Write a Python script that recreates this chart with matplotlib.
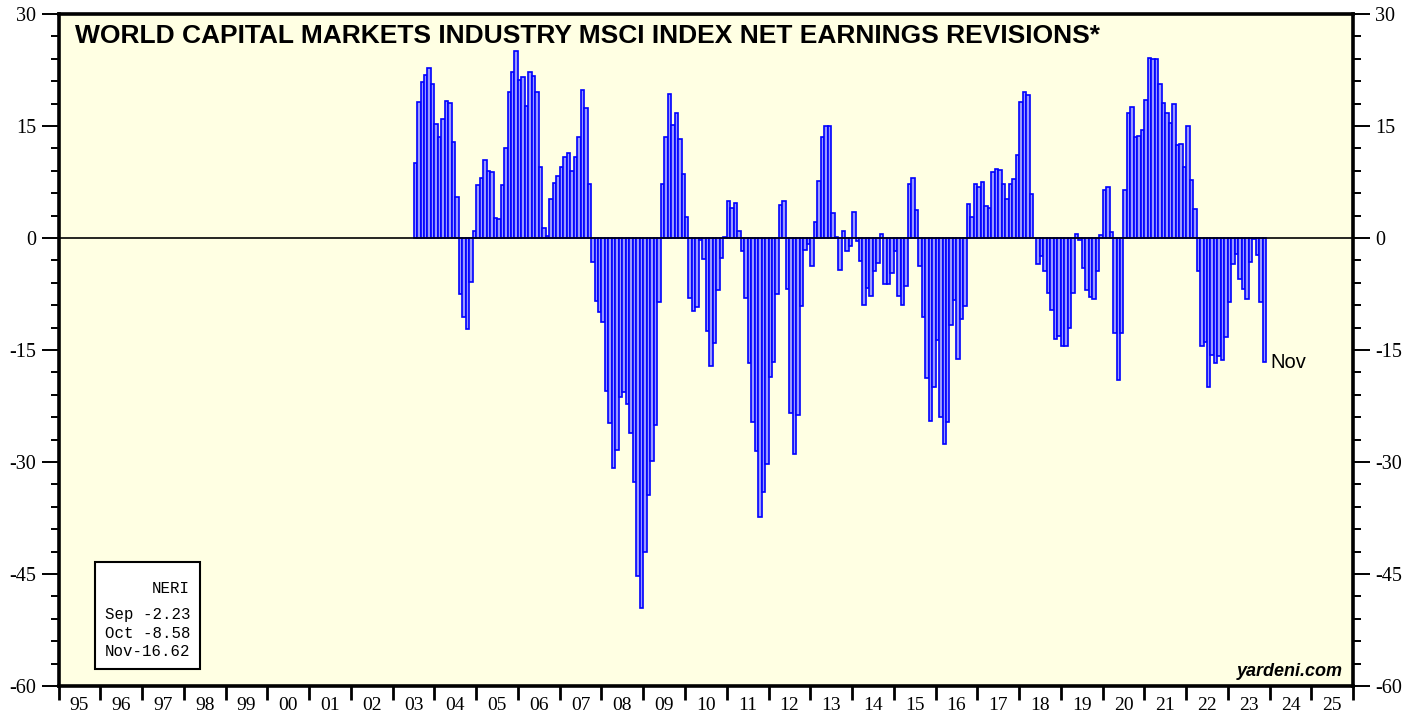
#!/usr/bin/env python3
"""
World capital markets industry MSCI net earnings revisions (NERI), monthly bars.
"""
import numpy as np
import matplotlib
matplotlib.use("Agg")
import matplotlib.pyplot as plt
from matplotlib.patches import Rectangle
from matplotlib.ticker import MultipleLocator, FixedLocator, NullFormatter, FixedFormatter

TITLE = "WORLD CAPITAL MARKETS INDUSTRY MSCI INDEX NET EARNINGS REVISIONS*"
SOURCE = "yardeni.com"
LEGEND_TITLE = "NERI"
MONTH_NAMES = ["Jan", "Feb", "Mar", "Apr", "May", "Jun", "Jul", "Aug", "Sep", "Oct", "Nov", "Dec"]

START_YEAR = 2003
START_MONTH = 7  # first bar is Jul 2003

# monthly NERI readings, Jul 2003 .. Nov 2023
neri = [
    10.0, 18.2, 20.9, 21.8, 22.8, 20.6,                                   # 2003 Jul-Dec
    15.3, 13.6, 16.0, 18.4, 18.1, 12.9, 5.5, -7.5, -10.6, -12.2, -5.9, 1.0,  # 2004
    7.1, 8.1, 10.5, 9.0, 8.9, 2.7, 2.5, 7.1, 12.1, 19.5, 22.2, 25.0,      # 2005
    21.2, 21.6, 17.7, 22.2, 21.7, 19.5, 9.5, 1.3, 0.3, 5.2, 7.4, 8.3,     # 2006
    9.5, 10.9, 11.4, 9.0, 10.8, 13.6, 19.8, 17.4, 7.2, -3.2, -8.4, -9.9,  # 2007
    -11.2, -20.5, -24.8, -30.8, -28.4, -21.3, -20.6, -22.2, -26.1, -32.7, -45.2, -49.6,  # 2008
    -42.0, -34.4, -29.8, -25.0, -8.5, 7.2, 13.5, 19.3, 15.1, 16.8, 13.2, 8.6,  # 2009
    2.8, -8.0, -9.8, -9.3, -0.3, -2.8, -12.4, -17.2, -14.0, -7.0, -2.7, 0.1,  # 2010
    5.0, 4.0, 4.7, 1.0, -1.7, -8.0, -16.8, -24.6, -28.5, -37.3, -34.0, -30.3,  # 2011
    -18.6, -16.6, -7.5, 4.4, 4.9, -6.8, -23.4, -28.9, -23.7, -9.1, -1.6, -0.8,  # 2012
    -3.8, 2.2, 7.6, 13.5, 15.0, 15.0, 3.4, 0.2, -4.3, 0.9, -1.7, -1.0,    # 2013
    3.5, -0.4, -3.1, -9.0, -6.7, -7.8, -4.4, -3.3, 0.5, -6.1, -6.1, -4.7,  # 2014
    -1.8, -7.7, -9.0, -6.4, 7.2, 8.1, 3.7, -3.7, -10.6, -18.8, -24.5, -19.9,  # 2015
    -13.7, -24.0, -27.6, -24.6, -11.6, -8.3, -16.2, -10.8, -9.1, 4.5, 2.8, 7.2,  # 2016
    6.8, 7.5, 4.3, 4.0, 8.9, 9.2, 9.1, 7.3, 5.2, 7.2, 7.9, 11.1,          # 2017
    18.2, 19.6, 19.2, 5.9, 0.0, -3.5, -2.4, -4.4, -7.3, -9.7, -13.5, -13.1,  # 2018
    -14.4, -14.4, -12.0, -7.4, 0.6, -0.2, -4.0, -7.0, -7.9, -8.2, -4.4, 0.4,  # 2019
    6.5, 6.8, 0.8, -12.7, -19.0, -12.7, 6.5, 16.8, 17.6, 13.5, 13.7, 14.5,  # 2020
    18.5, 24.1, 24.0, 24.0, 20.6, 18.1, 16.8, 15.4, 17.9, 12.5, 12.6, 9.5,  # 2021
    15.0, 7.8, 3.9, -4.4, -14.4, -13.9, -19.9, -15.6, -16.8, -15.8, -16.4, -13.2,  # 2022
    -8.5, -3.5, -2.1, -5.5, -6.8, -8.2, -3.2, -0.1, -2.23, -8.58, -16.62,  # 2023 Jan-Nov
]

X_MIN, X_MAX = 1995, 2026
Y_MIN, Y_MAX = -60, 30

BG = "#ffffe3"
BAR_FILL = "#9a9aff"
BAR_EDGE = "#0000ff"


def main():
    plt.rcParams["font.family"] = ["Liberation Serif", "DejaVu Serif"]
    plt.rcParams["axes.unicode_minus"] = False

    vals = np.array(neri)
    x = START_YEAR + (START_MONTH - 1) / 12 + np.arange(len(vals)) / 12

    fig = plt.figure(figsize=(14.19, 7.17), dpi=100)
    ax = fig.add_axes([0.0413, 0.0432, 0.9123, 0.9372])
    ax.set_facecolor(BG)

    ax.bar(x, vals, width=1 / 12, align="edge", color=BAR_FILL,
           edgecolor=BAR_EDGE, linewidth=1.2, zorder=2)
    ax.axhline(0, color="black", lw=1.2, zorder=3)

    ax.set_xlim(X_MIN, X_MAX)
    ax.set_ylim(Y_MIN, Y_MAX)

    for sp in ax.spines.values():
        sp.set_linewidth(2.6)

    # y axis, labels on both sides
    ax.yaxis.set_major_locator(MultipleLocator(15))
    ax.yaxis.set_minor_locator(MultipleLocator(3))
    ax.tick_params(axis="y", which="major", length=12, width=1.4, direction="out",
                   left=True, right=True, labelleft=True, labelright=True,
                   labelsize=14.5, pad=4)
    ax.tick_params(axis="y", which="minor", length=6, width=1.4, direction="out",
                   left=True, right=True)

    # x axis: ticks on year boundaries, 2-digit labels centred in each year
    years = np.arange(X_MIN, X_MAX + 1)
    ax.xaxis.set_major_locator(FixedLocator(years))
    ax.xaxis.set_major_formatter(NullFormatter())
    ax.xaxis.set_minor_locator(FixedLocator(years[:-1] + 0.5))
    ax.xaxis.set_minor_formatter(FixedFormatter([f"{y % 100:02d}" for y in years[:-1]]))
    ax.tick_params(axis="x", which="major", length=10, width=2.0, direction="out")
    ax.tick_params(axis="x", which="minor", length=0, labelsize=14, pad=8)

    ax.text(0.0127, 0.9568, TITLE, transform=ax.transAxes, ha="left", va="baseline",
            family="Liberation Sans", fontweight="bold", fontsize=19, zorder=6)
    ax.text(0.9922, 0.0149, SOURCE, transform=ax.transAxes, ha="right", va="baseline",
            family="Liberation Sans", fontweight="bold", style="italic", fontsize=13, zorder=6)

    last_month = (START_MONTH - 1 + len(vals) - 1) % 12
    ax.text(x[-1] + 1 / 12 + 0.1, vals[-1], MONTH_NAMES[last_month], ha="left", va="center",
            family="Liberation Sans", fontsize=14.5, zorder=6)

    # NERI box with last three readings
    ax.add_patch(Rectangle((0.0281, 0.0253), 0.0811, 0.1597, transform=ax.transAxes,
                           facecolor="white", edgecolor="black", lw=1.5, zorder=5))
    ax.text(0.1015, 0.1454, LEGEND_TITLE, transform=ax.transAxes, ha="right", va="center",
            family="Liberation Mono", fontsize=11.3, zorder=6)
    ys = [0.1057, 0.0784, 0.0510]
    for k, yy in zip(range(3, 0, -1), ys):
        m = (last_month - (k - 1)) % 12
        ax.text(0.0358, yy, f"{MONTH_NAMES[m]}{vals[-k]:6.2f}", transform=ax.transAxes,
                ha="left", va="center", family="Liberation Mono", fontsize=11.3, zorder=6)

    fig.savefig("out.png", dpi=100, facecolor="white")


if __name__ == "__main__":
    main()
